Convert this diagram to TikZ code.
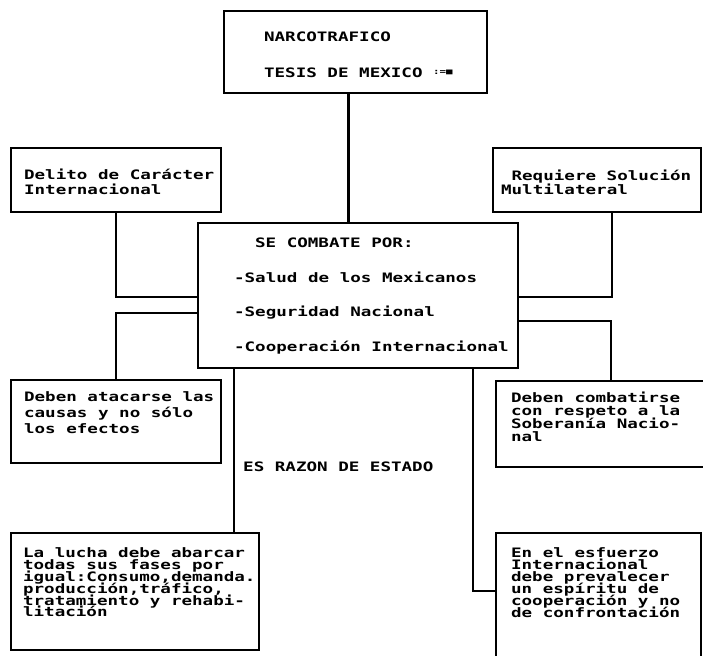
\documentclass[tikz,border=0pt]{standalone}
\usepackage{fontspec}
\setmonofont[FakeStretch=1.35]{DejaVu Sans Mono}
\usetikzlibrary{positioning, calc}

\tikzset{
  caja/.style n args={5}{draw, line width=2.2pt, anchor=north west, inner sep=0pt,
    font=\ttfamily\bfseries\fontsize{13}{#5}\selectfont,
    execute at begin node={\begin{minipage}[c][#2][t]{#1}\leftskip=#3\relax\lineskiplimit=-20pt\vspace*{#4}},
    execute at end node={\end{minipage}}},
  linea/.style={line width=2.4pt},
}

\begin{document}
\begin{tikzpicture}[x=1pt, y=-1pt]
    \useasboundingbox (0,0) rectangle (703,655);

    \node[caja={263pt}{82pt}{40pt}{21pt}{36pt}] (narco) at (223,10) {NARCOTRAFICO\\TESIS DE MEXICO \raisebox{3pt}{\fontsize{8}{8}\selectfont :=■}};
    \node[caja={210pt}{64pt}{13pt}{21pt}{14.5pt}] (delito) at (10,147) {Delito de Carácter\\Internacional};
    \node[caja={208pt}{64pt}{8pt}{22pt}{14pt}] (requiere) at (492,147) {\hspace*{10.5pt}Requiere Solución\\Multilateral};
    \node[caja={320pt}{145pt}{36pt}{15pt}{34.5pt}] (centro) at (197,222) {\hspace*{21pt}SE COMBATE POR:\\-Salud de los Mexicanos\\-Seguridad Nacional\\-Cooperación Internacional};
    \node[caja={210pt}{83pt}{13pt}{12pt}{16pt}] (atacarse) at (10,379) {Deben atacarse las\\causas y no sólo\\los efectos};
    \node[caja={208pt}{86pt}{15pt}{11pt}{13pt}] (combatirse) at (495,380) {Deben combatirse\\con respeto a la\\Soberanía Nacio-\\nal};
    \node[font=\ttfamily\bfseries\fontsize{13}{14}\selectfont, anchor=west, inner sep=0pt] (razon) at (243,467) {ES RAZON DE ESTADO};
    \node[caja={248pt}{117pt}{12pt}{15pt}{11.8pt}] (lucha) at (10,532) {La lucha debe abarcar\\todas sus fases por\\igual:Consumo,demanda.\\producción,tráfico,\\tratamiento y rehabi-\\litación};
    \node[caja={205pt}{130pt}{15pt}{15pt}{12pt}] (esfuerzo) at (495,532) {En el esfuerzo\\Internacional\\debe prevalecer\\un espíritu de\\cooperación y no\\de confrontación};

    \draw[linea] ([xshift=-7pt]narco.south) -- ([xshift=-7pt]narco.south |- centro.north);
    \draw[linea] (delito.south) |- ([yshift=-75pt]centro.north west);
    \draw[linea] ([xshift=15pt]requiere.south) |- ([yshift=-75pt]centro.north east);
    \draw[linea] (atacarse.north) |- ([yshift=-91pt]centro.north west);
    \draw[linea] ([xshift=11pt]combatirse.north) |- ([yshift=-99pt]centro.north east);
    \draw[linea] ([xshift=-124pt]centro.south) -- ([xshift=-124pt]centro.south |- lucha.north);
    \draw[linea] ([xshift=115pt]centro.south) |- ([yshift=-59pt]esfuerzo.north west);
\end{tikzpicture}
\end{document}
